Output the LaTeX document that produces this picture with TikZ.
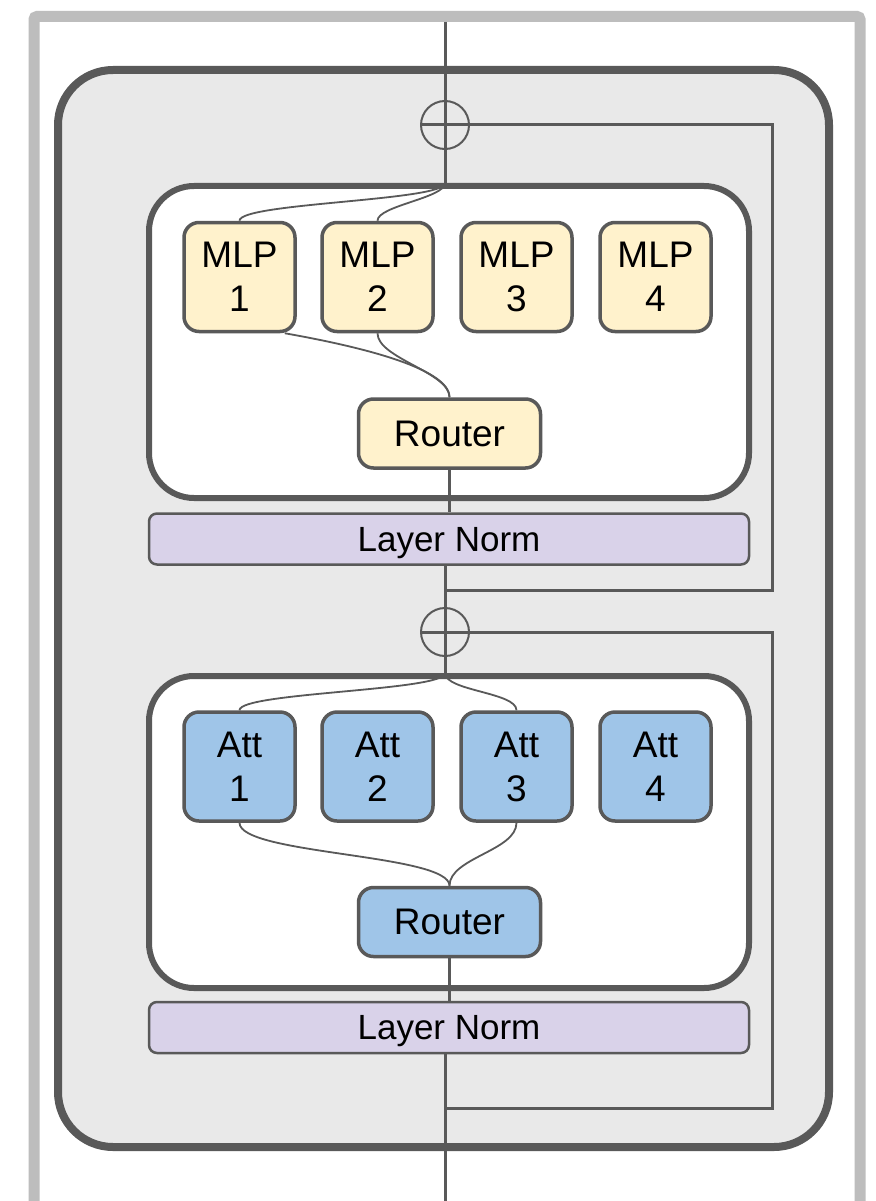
\documentclass[tikz,border=0pt]{standalone}
\usepackage{fontspec}
\setmainfont{Liberation Sans}
\usetikzlibrary{positioning}
\definecolor{ink}{HTML}{595959}
\definecolor{mlpcol}{HTML}{FFF2CC}
\definecolor{attcol}{HTML}{9FC5E8}
\definecolor{normcol}{HTML}{D9D2E9}
\definecolor{blockcol}{HTML}{E9E9E9}
\definecolor{framecol}{HTML}{BDBDBD}
\begin{document}
\begin{tikzpicture}[x=1pt,y=-1pt,
    wire/.style={draw=ink,line width=3pt},
    thin wire/.style={draw=ink,line width=1.8pt},
    expert/.style={draw=ink,line width=3.5pt,rounded corners=15pt,minimum width=111pt,
      minimum height=109pt,inner sep=0pt,align=center,font=\fontsize{37}{44}\selectfont},
    router/.style={expert,minimum width=182pt,minimum height=69pt},
    norm/.style={draw=ink,line width=2.5pt,fill=normcol,rounded corners=8pt,text depth=0pt,
      minimum width=600pt,minimum height=51pt,inner sep=0pt,font=\fontsize{35}{42}\selectfont},
    group/.style={draw=ink,line width=6pt,fill=white,rounded corners=45pt,
      minimum width=600pt,minimum height=312pt},
    adder/.style={circle,draw=ink,line width=2pt,minimum size=48pt,inner sep=0pt}]
  \useasboundingbox[fill=white](0,0)rectangle(875,1201);
  % outer frame and the block
  \draw[framecol,line width=11pt,rounded corners=3pt](34,1215)--(34,16.5)--(860,16.5)--(860,1215);
  \node[draw=ink,line width=8pt,fill=blockcol,rounded corners=55pt,minimum width=771pt,
    minimum height=1077pt](blk)at(443.5,608.5){};
  \coordinate(in)at(445,22);
  \coordinate(out)at(445,1201);
  \coordinate(tap1)at(445,590);
  \coordinate(tap2)at(445,1108);
  % MLP part
  \node[group](moe)at(449,342){};
  \foreach \i/\x in {1/239.5,2/377.5,3/516.5,4/655.5}
    \node[expert,fill=mlpcol](m\i)at(\x,277){MLP\\\i};
  \node[router,fill=mlpcol](r1)at(449.5,433.5){Router};
  \node[norm](ln1)at(449,539){Layer Norm};
  % attention part
  \node[group](att)at(449,832){};
  \foreach \i/\x in {1/239.5,2/377.5,3/516.5,4/655.5}
    \node[expert,fill=attcol](a\i)at(\x,766.5){Att\\\i};
  \node[router,fill=attcol](r2)at(449.5,922){Router};
  \node[norm](ln2)at(449,1027.5){Layer Norm};
  % residual adds
  \node[adder](o1)at(445,125){};
  \node[adder](o2)at(445,632){};
  % trunk
  \draw[wire](in)--(in|-moe.north);
  \draw[wire](r1.south)--(r1.south|-ln1.north);
  \draw[wire](ln1.south-|in)--(in|-att.north);
  \draw[wire](r2.south)--(r2.south|-ln2.north);
  \draw[wire](ln2.south-|in)--(out);
  % skips
  \draw[wire](o1.west)-|(772,590)--(tap1);
  \draw[wire](o2.west)-|(772,1108)--(tap2);
  % routing curves
  \coordinate(s1)at(in|-moe.north);
  \coordinate(s2)at(in|-att.north);
  \draw[thin wire](s1)to[out=-90,in=90,distance=18pt](m1.north);
  \draw[thin wire](s1)to[out=-90,in=90,distance=15pt](m2.north);
  \draw[thin wire]([xshift=-12pt]m1.south east)to[out=-10,in=90,out distance=70pt,in distance=30pt](r1.north);
  \draw[thin wire](m2.south)to[out=-90,in=90,distance=25pt](r1.north);
  \draw[thin wire](s2)to[out=-90,in=90,distance=18pt](a1.north);
  \draw[thin wire](s2)to[out=-90,in=90,distance=18pt](a3.north);
  \draw[thin wire](a1.south)to[out=-90,in=90,distance=32pt](r2.north);
  \draw[thin wire](a3.south)to[out=-90,in=90,distance=28pt](r2.north);
\end{tikzpicture}
\end{document}
